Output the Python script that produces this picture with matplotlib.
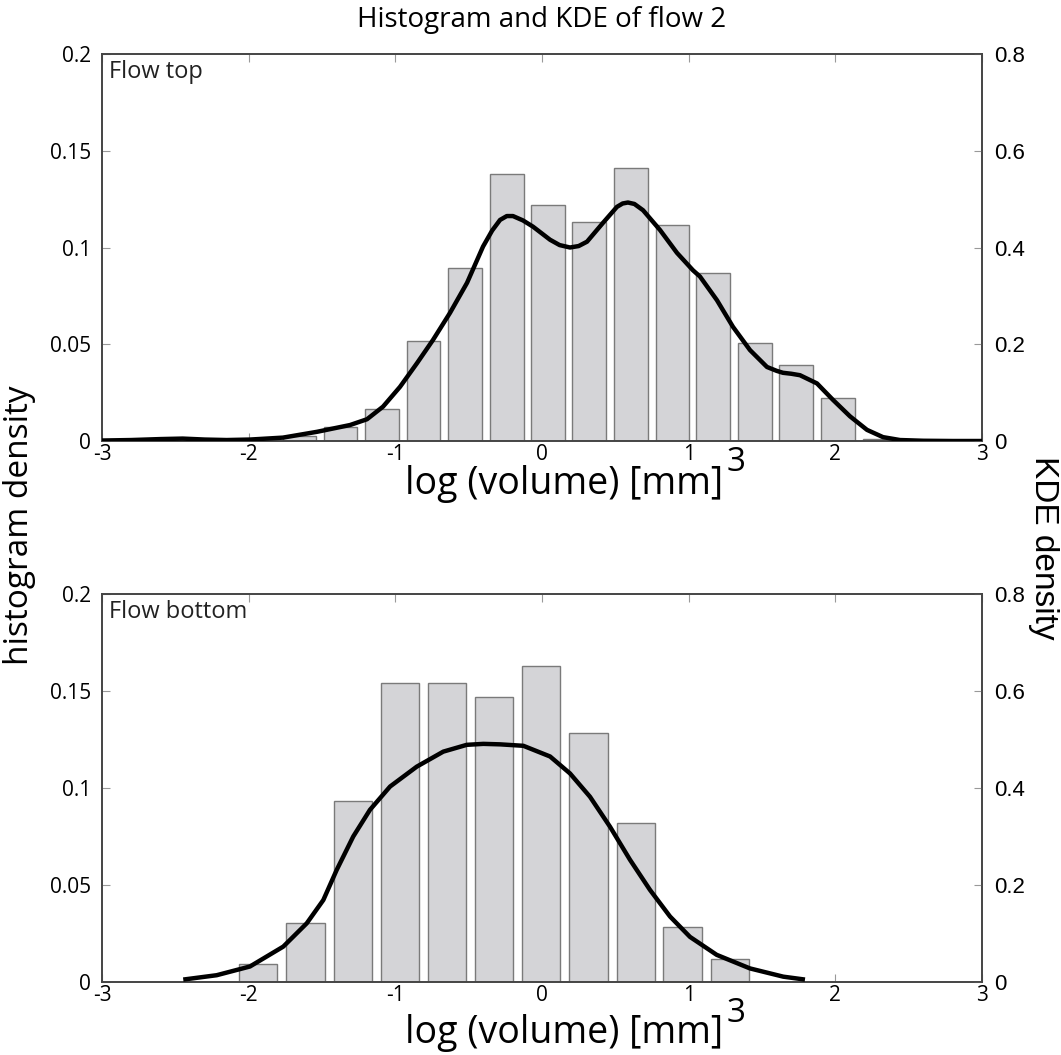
import matplotlib
matplotlib.use("Agg")
import matplotlib.pyplot as plt
import numpy as np

plt.rcParams['font.family'] = ['Open Sans', 'DejaVu Sans']

# histogram bins (centers, density) -- flow top
top_centers = [-1.653, -1.374, -1.091, -0.808, -0.525, -0.239, 0.041, 0.320,
               0.607, 0.887, 1.166, 1.452, 1.732, 2.018, 2.305]
top_hist = [0.0026, 0.0074, 0.0165, 0.0517, 0.0893, 0.138, 0.1221, 0.113,
            0.1412, 0.1115, 0.0868, 0.0505, 0.0391, 0.0224, 0.0009]

# KDE curve -- flow top
top_kde_x = [-3.0, -2.8, -2.6, -2.45, -2.3, -2.15, -1.991, -1.766, -1.534, -1.309,
             -1.193, -1.084, -0.968, -0.852, -0.743, -0.627, -0.511, -0.402,
             -0.34, -0.286, -0.24, -0.198, -0.13, -0.061, 0.055, 0.12, 0.191,
             0.25, 0.307, 0.416, 0.511, 0.55, 0.586, 0.63, 0.689, 0.805, 0.920,
             1.029, 1.077, 1.193, 1.302, 1.418, 1.534, 1.60, 1.643, 1.70, 1.759,
             1.875, 1.984, 2.100, 2.216, 2.325, 2.441, 2.6, 2.8, 3.0]
top_kde = [0.001, 0.002, 0.004, 0.005, 0.003, 0.002, 0.003, 0.007, 0.019, 0.033,
           0.045, 0.071, 0.112, 0.161, 0.209, 0.265, 0.327, 0.402,
           0.435, 0.457, 0.465, 0.465, 0.456, 0.443, 0.416, 0.405, 0.400,
           0.403, 0.412, 0.451, 0.484, 0.491, 0.493, 0.490, 0.477, 0.436, 0.389,
           0.353, 0.340, 0.291, 0.236, 0.188, 0.153, 0.145, 0.141, 0.139, 0.136,
           0.119, 0.085, 0.051, 0.023, 0.008, 0.002, 0.0005, 0.0, 0.0]

# histogram bins -- flow bottom
bot_centers = [-1.936, -1.613, -1.290, -0.967, -0.646, -0.327, -0.005, 0.316,
               0.639, 0.959, 1.282]
bot_hist = [0.0091, 0.0303, 0.0935, 0.154, 0.154, 0.147, 0.163, 0.1285,
            0.0818, 0.0282, 0.0117]

# KDE curve -- flow bottom
bot_kde_x = [-2.446, -2.218, -1.991, -1.764, -1.604, -1.491, -1.400, -1.287,
             -1.173, -1.036, -0.854, -0.673, -0.513, -0.4, -0.286, -0.127, 0.055,
             0.191, 0.327, 0.464, 0.600, 0.736, 0.873, 1.009, 1.191, 1.418,
             1.645, 1.793]
bot_kde = [0.005, 0.014, 0.032, 0.073, 0.121, 0.169, 0.231, 0.300,
           0.355, 0.403, 0.444, 0.475, 0.489, 0.491, 0.490, 0.487, 0.465,
           0.430, 0.382, 0.320, 0.252, 0.190, 0.135, 0.093, 0.056, 0.028,
           0.011, 0.005]

xticks = [-3, -2, -1, 0, 1, 2, 3]
xticklabels = ['-3', '-2', '-1', '0', '1', '2', '3']
lticks = [0, 0.05, 0.1, 0.15, 0.2]
lticklabels = ['0', '0.05', '0.1', '0.15', '0.2']
rticks = [0, 0.2, 0.4, 0.6, 0.8]
rticklabels = ['0', '0.2', '0.4', '0.6', '0.8']

W, H = 1061, 1055
fig = plt.figure(figsize=(W / 100, H / 100), dpi=100)


def panel(rect, centers, hist, kx, ky, name):
    ax = fig.add_axes(rect)
    width = (centers[1] - centers[0]) * 0.81
    ax.bar(centers, hist, width=width, color='#d4d4d7', edgecolor='#7a7a7a',
           linewidth=1.0, zorder=2)
    ax.set_xlim(-3, 3)
    ax.set_ylim(0, 0.2)
    ax.set_xticks(xticks)
    ax.set_xticklabels(xticklabels)
    ax.set_yticks(lticks)
    ax.set_yticklabels(lticklabels)
    ax.tick_params(direction='in', length=6, color='#999999', top=True,
                   labelsize=15)
    ax.tick_params(axis='x', pad=2)
    ax.tick_params(axis='y', pad=8)
    for s in ax.spines.values():
        s.set_color('#444444')
        s.set_linewidth(1.2)
    ax.text(0.008, 0.985, name, transform=ax.transAxes, ha='left', va='top',
            fontsize=17, color='#222222')

    axr = ax.twinx()
    axr.plot(kx, ky, color='black', linewidth=3.2, solid_capstyle='butt', zorder=3)
    axr.set_ylim(0, 0.8)
    axr.set_yticks(rticks)
    axr.set_yticklabels(rticklabels, family=['Liberation Sans', 'DejaVu Sans'])
    axr.tick_params(direction='in', length=6, color='#999999', labelsize=16, pad=9)
    for s in axr.spines.values():
        s.set_color('#444444')
        s.set_linewidth(1.2)
    return ax, axr


panel([102 / W, 1 - 441 / H, 880 / W, 387 / H],
      top_centers, top_hist, top_kde_x, top_kde, 'Flow top')
panel([102 / W, 1 - 982 / H, 880 / W, 388 / H],
      bot_centers, bot_hist, bot_kde_x, bot_kde, 'Flow bottom')

# titles and axis labels
fig.text(542 / W, 1 - 20 / H, 'Histogram and KDE of flow 2', ha='center',
         va='center', fontsize=20)
for ylab, y3 in [(484, 462), (1033, 1014)]:
    fig.text(564 / W, 1 - ylab / H, 'log (volume) [mm]', ha='center',
             va='center', fontsize=27)
    fig.text(736 / W, 1 - y3 / H, '3', ha='center', va='center', fontsize=24)

fig.text(20 / W, 1 - 525 / H, 'histogram density', rotation=90, ha='center',
         va='center', fontsize=24)
fig.text(1043 / W, 1 - 548 / H, 'KDE density', rotation=-90, ha='center',
         va='center', fontsize=24, family=['Liberation Sans', 'DejaVu Sans'])

fig.savefig('out.png', dpi=100)
